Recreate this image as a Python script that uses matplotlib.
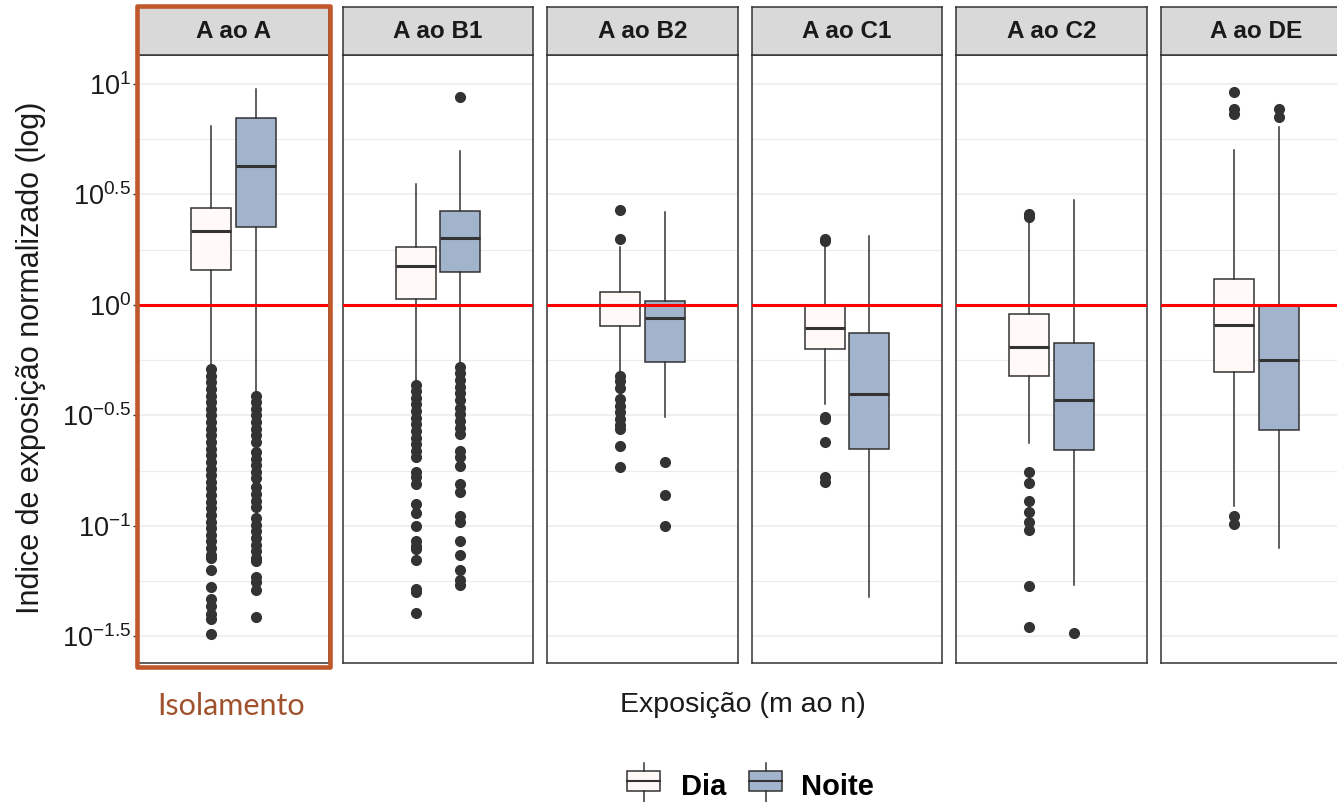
import matplotlib
matplotlib.use("Agg")
import matplotlib.pyplot as plt
from matplotlib.patches import Rectangle
import numpy as np

plt.rcParams["font.family"] = ["Liberation Sans", "DejaVu Sans"]
plt.rcParams["mathtext.default"] = "regular"

# paineis (exposicao m ao n)
paineis = ["A ao A", "A ao B1", "A ao B2", "A ao C1", "A ao C2", "A ao DE"]

# estatisticas, em expoente log10
dia_bigode_sup = [0.81, 0.548, 0.261, 0.28, 0.38, 0.70]
dia_q3 = [0.44, 0.261, 0.06, -0.005, -0.039, 0.118]
dia_mediana = [0.336, 0.178, 0.0, -0.103, -0.19, -0.09]
dia_q1 = [0.157, 0.026, -0.094, -0.198, -0.32, -0.305]
dia_bigode_inf = [-0.27, -0.34, -0.30, -0.448, -0.623, -0.91]

noite_bigode_sup = [0.977, 0.697, 0.42, 0.31, 0.475, 0.807]
noite_q3 = [0.845, 0.427, 0.02, -0.128, -0.17, -0.003]
noite_mediana = [0.629, 0.302, -0.057, -0.403, -0.43, -0.249]
noite_q1 = [0.352, 0.149, -0.26, -0.653, -0.656, -0.566]
noite_bigode_inf = [-0.395, -0.264, -0.508, -1.32, -1.267, -1.10]

dia_outliers = [
    [-0.29, -0.32, -0.35, -0.38, -0.41, -0.44, -0.47, -0.50, -0.53, -0.56, -0.59, -0.62,
     -0.65, -0.68, -0.71, -0.74, -0.77, -0.80, -0.83, -0.86, -0.89, -0.92, -0.95, -0.98,
     -1.01, -1.04, -1.07, -1.10, -1.13, -1.145, -1.20, -1.275, -1.33, -1.36, -1.40, -1.42, -1.49],
    [-0.36, -0.39, -0.42, -0.45, -0.48, -0.51, -0.54, -0.57, -0.60, -0.63, -0.66, -0.69,
     -0.755, -0.78, -0.81, -0.90, -0.94, -1.00, -1.07, -1.09, -1.105, -1.155, -1.285, -1.30, -1.395],
    [0.43, 0.297, -0.32, -0.345, -0.375, -0.425, -0.455, -0.485, -0.515, -0.545, -0.56, -0.638, -0.735],
    [0.30, 0.29, -0.505, -0.515, -0.618, -0.78, -0.80],
    [0.41, 0.40, -0.754, -0.804, -0.887, -0.935, -0.98, -1.018, -1.27, -1.458],
    [0.965, 0.885, 0.865, -0.955, -0.99],
]
noite_outliers = [
    [-0.41, -0.44, -0.47, -0.50, -0.53, -0.56, -0.59, -0.62, -0.665, -0.695, -0.725, -0.755,
     -0.785, -0.825, -0.855, -0.885, -0.915, -0.965, -0.995, -1.025, -1.055, -1.085, -1.115,
     -1.145, -1.16, -1.23, -1.255, -1.29, -1.41],
    [0.943, -0.28, -0.31, -0.34, -0.37, -0.40, -0.43, -0.465, -0.495, -0.525, -0.555, -0.584,
     -0.66, -0.69, -0.73, -0.81, -0.846, -0.955, -0.98, -1.07, -1.13, -1.20, -1.245, -1.265],
    [-0.709, -0.86, -0.998],
    [],
    [-1.486],
    [0.885, 0.85],
]

expoentes_ticks = [-1.5, -1.0, -0.5, 0.0, 0.5, 1.0]
rotulos_ticks = ["$10^{-1.5}$", "$10^{-1}$", "$10^{-0.5}$", "$10^{0}$", "$10^{0.5}$", "$10^{1}$"]
expoentes_grade_menor = [-1.25, -0.75, -0.25, 0.25, 0.75]

COR_DIA = "#FFF9F7"
COR_NOITE = "#A2B3CC"
COR_LINHA = "#333333"

LARG, ALT = 1337, 802


def fx(px):
    return px / LARG


def fy(py):
    return 1 - py / ALT


def estatistica(q1, med, q3, lo, hi, fl):
    return {"q1": 10 ** q1, "med": 10 ** med, "q3": 10 ** q3,
            "whislo": 10 ** lo, "whishi": 10 ** hi,
            "fliers": 10 ** np.array(fl, dtype=float)}


def desenha():
    fig = plt.figure(figsize=(LARG / 100, ALT / 100), dpi=100)

    for i, nome in enumerate(paineis):
        esquerda = 138 + 204.6 * i
        ax = fig.add_axes([fx(esquerda), fy(663), 190.6 / LARG, (663 - 55) / ALT])
        ax.set_yscale("log")

        stats = [
            estatistica(dia_q1[i], dia_mediana[i], dia_q3[i], dia_bigode_inf[i], dia_bigode_sup[i], dia_outliers[i]),
            estatistica(noite_q1[i], noite_mediana[i], noite_q3[i], noite_bigode_inf[i], noite_bigode_sup[i], noite_outliers[i]),
        ]
        caixas = ax.bxp(stats, positions=[0.383, 0.617], widths=0.21, patch_artist=True,
                        showcaps=False,
                        boxprops=dict(edgecolor=COR_LINHA, linewidth=1.1),
                        medianprops=dict(color=COR_LINHA, linewidth=2.2, solid_capstyle="butt"),
                        whiskerprops=dict(color=COR_LINHA, linewidth=1.1),
                        flierprops=dict(marker="o", markerfacecolor=COR_LINHA, markeredgecolor=COR_LINHA,
                                        markersize=7.0, linestyle="none"))
        for caixa, cor in zip(caixas["boxes"], [COR_DIA, COR_NOITE]):
            caixa.set_facecolor(cor)

        ax.axhline(1.0, color="red", linewidth=2.2, zorder=5)

        ax.set_xlim(0, 1)
        ax.set_ylim(10 ** -1.62, 10 ** 1.131)
        ax.set_xticks([])
        ax.set_yticks([10 ** e for e in expoentes_ticks], rotulos_ticks if i == 0 else [])
        ax.set_yticks([10 ** e for e in expoentes_grade_menor], minor=True)
        ax.tick_params(axis="y", which="minor", length=0, labelleft=False)
        if i == 0:
            ax.tick_params(axis="y", which="major", length=3.5, width=1, color=COR_LINHA,
                           labelsize=19.5, labelcolor="#1A1A1A", pad=1.5)
        else:
            ax.tick_params(axis="y", which="major", length=0, labelleft=False)
        ax.grid(True, which="major", axis="y", color="#EBEBEB", linewidth=1.1)
        ax.grid(True, which="minor", axis="y", color="#EBEBEB", linewidth=0.8)
        ax.set_axisbelow(True)
        for sp in ax.spines.values():
            sp.set_color(COR_LINHA)
            sp.set_linewidth(1.1)

        # faixa do titulo do painel
        faixa = fig.add_axes([fx(esquerda), fy(55), 190.6 / LARG, 48 / ALT])
        faixa.set_facecolor("#D9D9D9")
        faixa.set_xticks([])
        faixa.set_yticks([])
        for sp in faixa.spines.values():
            sp.set_color(COR_LINHA)
            sp.set_linewidth(1.1)
        faixa.text(0.5, 0.5, nome, ha="center", va="center", fontsize=17.5, fontweight="bold",
                   color="#1A1A1A", transform=faixa.transAxes)

    fig.text(fx(31), fy(358), "Indice de exposição normalizado (log)", rotation=90,
             ha="center", va="center", fontsize=22, color="#1A1A1A")
    fig.text(fx(743), fy(705), "Exposição (m ao n)", ha="center", va="center", fontsize=20.5, color="#1A1A1A")

    # destaque do isolamento
    fig.add_artist(Rectangle((fx(137), fy(667)), (330 - 137) / LARG, (667 - 6) / ALT,
                             transform=fig.transFigure, fill=False, edgecolor="#C0582B",
                             linewidth=3.3, joinstyle="round", zorder=10))
    fig.text(fx(231), fy(706), "Isolamento", ha="center", va="center", fontsize=22,
             family="Lato", color="#A0522D")

    # legenda (na base da figura)
    leg = fig.add_axes([fx(600), fy(830), 300 / LARG, 70 / ALT])
    leg.set_xlim(600, 900)
    leg.set_ylim(830, 760)
    leg.axis("off")
    for x0, cor, texto, xt in [(627, COR_DIA, "Dia", 681), (749, COR_NOITE, "Noite", 801)]:
        leg.add_patch(Rectangle((x0, 771), 33, 20, facecolor=cor, edgecolor=COR_LINHA, linewidth=1.1))
        leg.plot([x0 + 16.5, x0 + 16.5], [763, 771], color=COR_LINHA, linewidth=1.1)
        leg.plot([x0 + 16.5, x0 + 16.5], [791, 803], color=COR_LINHA, linewidth=1.1)
        leg.plot([x0, x0 + 33], [781, 781], color=COR_LINHA, linewidth=1.5)
        leg.text(xt, 795, texto, ha="left", va="baseline", fontsize=21, fontweight="bold", color="#000000")

    fig.savefig("out.png", dpi=100)


def main():
    desenha()


if __name__ == "__main__":
    main()
